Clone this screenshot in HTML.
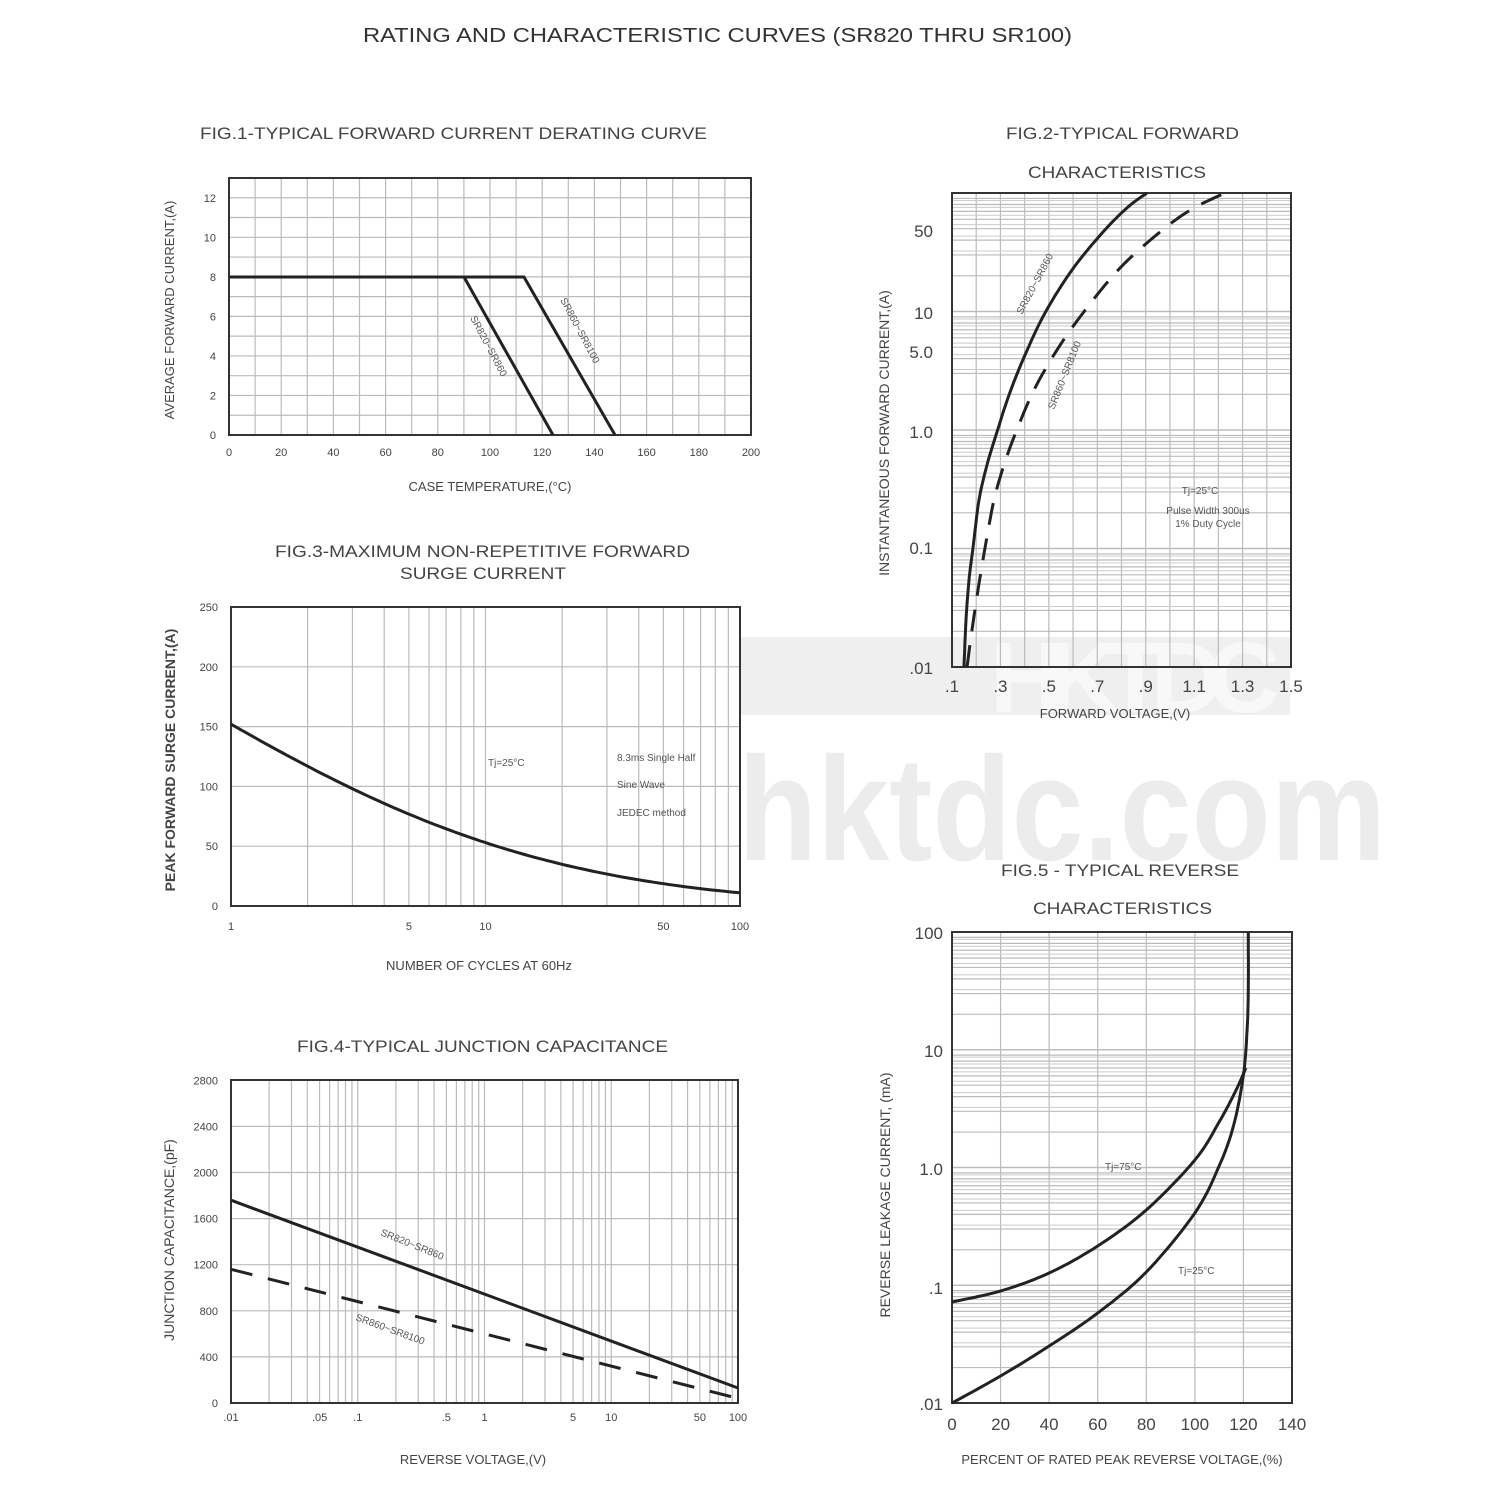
<!DOCTYPE html>
<html><head><meta charset="utf-8"><style>
html,body{margin:0;padding:0;background:#fff;}
svg{display:block;font-family:"Liberation Sans",sans-serif;}
</style></head><body>
<svg id="s" width="1500" height="1500" viewBox="0 0 1500 1500" xmlns="http://www.w3.org/2000/svg">
<rect width="1500" height="1500" fill="#fff"/>
<rect x="740" y="637" width="550" height="78" fill="#efefef"/>
<text x="990" y="712" font-size="100" font-weight="bold" fill="#f8f8f8" textLength="290">HKTDC</text>
<text x="738" y="860" font-size="148" font-weight="bold" fill="#ececec" textLength="648" lengthAdjust="spacingAndGlyphs">hktdc.com</text>
<g id="g"></g>
<g fill="#333" font-size="20">
<text x="363" y="42" textLength="709" lengthAdjust="spacingAndGlyphs">RATING AND CHARACTERISTIC CURVES (SR820 THRU SR100)</text>
</g>
<g fill="#444" font-size="17">
<text x="200" y="139" textLength="507" lengthAdjust="spacingAndGlyphs">FIG.1-TYPICAL FORWARD CURRENT DERATING CURVE</text>
<text x="1006" y="139" textLength="233" lengthAdjust="spacingAndGlyphs">FIG.2-TYPICAL FORWARD</text>
<text x="1028" y="178" textLength="178" lengthAdjust="spacingAndGlyphs">CHARACTERISTICS</text>
<text x="275" y="557" textLength="415" lengthAdjust="spacingAndGlyphs">FIG.3-MAXIMUM NON-REPETITIVE FORWARD</text>
<text x="400" y="579" textLength="166" lengthAdjust="spacingAndGlyphs">SURGE CURRENT</text>
<text x="297" y="1052" textLength="371" lengthAdjust="spacingAndGlyphs">FIG.4-TYPICAL JUNCTION CAPACITANCE</text>
<text x="1001" y="876" textLength="238" lengthAdjust="spacingAndGlyphs">FIG.5 - TYPICAL REVERSE</text>
<text x="1033" y="914" textLength="179" lengthAdjust="spacingAndGlyphs">CHARACTERISTICS</text>
</g>
<g fill="#444" font-size="13" text-anchor="middle">
<text x="490" y="491">CASE  TEMPERATURE,(°C)</text>
<text x="479" y="970">NUMBER OF CYCLES AT 60Hz</text>
<text x="473" y="1464">REVERSE VOLTAGE,(V)</text>
<text x="1115" y="718">FORWARD VOLTAGE,(V)</text>
<text x="1122" y="1464">PERCENT OF RATED PEAK REVERSE VOLTAGE,(%)</text>
<text transform="translate(174,310) rotate(-90)">AVERAGE FORWARD CURRENT,(A)</text>
<text transform="translate(175,760) rotate(-90)" font-size="14" font-weight="bold">PEAK FORWARD SURGE CURRENT,(A)</text>
<text transform="translate(174,1240) rotate(-90)" font-size="14">JUNCTION CAPACITANCE,(pF)</text>
<text transform="translate(889,433) rotate(-90)" font-size="14">INSTANTANEOUS FORWARD CURRENT,(A)</text>
<text transform="translate(890,1195) rotate(-90)" font-size="14">REVERSE LEAKAGE CURRENT, (mA)</text>
</g>
<g fill="#555" font-size="10">
<text transform="translate(470,318) rotate(62)">SR820~SR860</text>
<text transform="translate(560,300) rotate(62)">SR860~SR8100</text>
<text transform="translate(1022,315) rotate(-62)">SR820~SR860</text>
<text transform="translate(1054,410) rotate(-68)">SR860~SR8100</text>
<text x="1200" y="494" text-anchor="middle">Tj=25°C</text>
<text x="1208" y="514" text-anchor="middle">Pulse Width 300us</text>
<text x="1208" y="527" text-anchor="middle">1% Duty Cycle</text>
<text x="488" y="766">Tj=25°C</text>
<text x="617" y="761">8.3ms Single Half</text>
<text x="617" y="788">Sine Wave</text>
<text x="617" y="816">JEDEC method</text>
<text transform="translate(380,1235) rotate(22)">SR820~SR860</text>
<text transform="translate(355,1320) rotate(20)">SR860~SR8100</text>
<text x="1105" y="1170">Tj=75°C</text>
<text x="1178" y="1274">Tj=25°C</text>
</g>
</svg>
<script>
var g=document.getElementById('g'),NS='http://www.w3.org/2000/svg';
function el(t,a,p){var e=document.createElementNS(NS,t);for(var k in a)e.setAttribute(k,a[k]);(p||g).appendChild(e);return e;}
function ln(x1,y1,x2,y2,c,w){el('line',{x1:x1,y1:y1,x2:x2,y2:y2,stroke:c||'#bbb','stroke-width':w||1.2});}
function tx(x,y,s,sz,anc){var t=el('text',{x:x,y:y,'font-size':sz,'text-anchor':anc||'middle',fill:'#444'});t.textContent=s;}
function pl(pts,dash,w){var d='M'+pts.map(function(p){return p[0].toFixed(1)+','+p[1].toFixed(1)}).join(' L');var a={d:d,fill:'none',stroke:'#222','stroke-width':w||3,'stroke-linejoin':'round'};if(dash)a['stroke-dasharray']=dash;el('path',a);}
function box(x1,y1,x2,y2){el('rect',{x:x1,y:y1,width:x2-x1,height:y2-y1,fill:'none',stroke:'#333','stroke-width':2});}
function smooth(pts,n){var o=[];for(var i=0;i<pts.length-1;i++){var p0=pts[Math.max(i-1,0)],p1=pts[i],p2=pts[i+1],p3=pts[Math.min(i+2,pts.length-1)];for(var t=0;t<1;t+=1/n){var t2=t*t,t3=t2*t;o.push([0.5*((2*p1[0])+(-p0[0]+p2[0])*t+(2*p0[0]-5*p1[0]+4*p2[0]-p3[0])*t2+(-p0[0]+3*p1[0]-3*p2[0]+p3[0])*t3),0.5*((2*p1[1])+(-p0[1]+p2[1])*t+(2*p0[1]-5*p1[1]+4*p2[1]-p3[1])*t2+(-p0[1]+3*p1[1]-3*p2[1]+p3[1])*t3)]);}}o.push(pts[pts.length-1]);return o;}
// FIG1
var X0=229,X1=751,Y0=435,Y1=178,sx=(X1-X0)/200,sy=19.77;
for(var i=1;i<20;i++)ln(X0+i*10*sx,Y1,X0+i*10*sx,Y0);
for(var i=1;i<14;i++){var y=Y0-i*sy;if(y>Y1+2)ln(X0,y,X1,y);}
box(X0,Y1,X1,Y0);
for(var i=0;i<=12;i+=2)tx(216,Y0-i*sy+4,''+i,11,'end');
for(var i=0;i<=200;i+=20)tx(X0+i*sx,456,''+i,11);
pl([[X0,277],[464,277],[553,Y0]]);pl([[464,277],[524,277],[615,Y0]]);
// FIG3
X0=231;X1=740;Y0=906;Y1=607;var dx=(X1-X0)/2;
for(var d=0;d<2;d++)for(var k=2;k<=10;k++)ln(X0+(d+Math.log10(k))*dx,Y1,X0+(d+Math.log10(k))*dx,Y0);
for(var v=50;v<250;v+=50)ln(X0,Y0-v*1.196,X1,Y0-v*1.196);
box(X0,Y1,X1,Y0);
for(var v=0;v<=250;v+=50)tx(218,Y0-v*1.196+4,''+v,11,'end');
[[1,'1'],[5,'5'],[10,'10'],[50,'50'],[100,'100']].forEach(function(a){tx(X0+Math.log10(a[0])*dx,930,a[1],11)});
var sp=[];for(var L=0;L<=2.0001;L+=0.02){var I=152*Math.exp(-0.795*L-0.259*L*L);sp.push([X0+L*dx,Y0-I*1.196]);}
pl(sp);
// FIG4
X0=231;X1=738;Y0=1403;Y1=1080;dx=(X1-X0)/4;var cy=46.1/400;
for(var d=0;d<4;d++)for(var k=2;k<=10;k++)ln(X0+(d+Math.log10(k))*dx,Y1,X0+(d+Math.log10(k))*dx,Y0);
for(var v=400;v<2800;v+=400)ln(X0,Y0-v*cy,X1,Y0-v*cy);
box(X0,Y1,X1,Y0);
for(var v=0;v<=2800;v+=400)tx(218,Y0-v*cy+4,''+v,11,'end');
[[.01,'.01'],[.05,'.05'],[.1,'.1'],[.5,'.5'],[1,'1'],[5,'5'],[10,'10'],[50,'50'],[100,'100']].forEach(function(a){tx(X0+(Math.log10(a[0])+2)*dx,1421,a[1],11)});
pl([[X0,Y0-1760*cy],[X1,Y0-130*cy]]);
pl([[X0,Y0-1160*cy],[X1,Y0-40*cy]],'22,16');
// FIG2
X0=952;X1=1291;Y0=667;Y1=193;dx=(X1-X0)/14;var dy=(Y0-Y1)/4;
for(var i=1;i<14;i++)ln(X0+i*dx,Y1,X0+i*dx,Y0);
for(var d=0;d<4;d++)for(var k=1;k<=10;k++){if(d==0&&k==1)continue;var y=Y0-(d+Math.log10(k))*dy;ln(X0,y,X1,y);if(k>=3&&k<=8)ln(X0,y-4,X1,y-4,'#ccc',1);}
box(X0,Y1,X1,Y0);
[['50',237],['10',319],['5.0',358],['1.0',438],['0.1',554],['.01',674]].forEach(function(a){tx(933,a[1],a[0],17,'end')});
['.1','.3','.5','.7','.9','1.1','1.3','1.5'].forEach(function(s,i){tx(X0+i*2*dx,692,s,17)});
pl(smooth([[964,667],[966,620],[969,580],[973,548],[979,500],[987,465],[997,432],[1009,395],[1025,355],[1045,313],[1072,270],[1103,232],[1128,207],[1147,193]],8));
pl(smooth([[967,667],[972,630],[978,590],[985,548],[994,500],[1004,465],[1016,432],[1034,390],[1057,350],[1083,313],[1120,268],[1160,232],[1192,209],[1225,193]],8),'22,14');
// FIG5
X0=952;X1=1292;Y0=1403;Y1=932;dx=(X1-X0)/7;dy=(Y0-Y1)/4;
for(var i=1;i<7;i++)ln(X0+i*dx,Y1,X0+i*dx,Y0);
for(var d=0;d<4;d++)for(var k=1;k<=10;k++){if(d==0&&k==1)continue;var y=Y0-(d+Math.log10(k))*dy;ln(X0,y,X1,y);if(k>=3&&k<=8)ln(X0,y-4,X1,y-4,'#ccc',1);}
box(X0,Y1,X1,Y0);
[['100',939],['10',1057],['1.0',1175],['.1',1294],['.01',1410]].forEach(function(a){tx(943,a[1],a[0],17,'end')});
for(var i=0;i<=7;i++)tx(X0+i*dx,1430,''+(i*20),17);
function px(p){return 952+p*2.4286;}
pl(smooth([[0,1302],[20,1291],[40,1273],[60,1246],[80,1210],[100,1160],[110,1122],[117,1090],[121,1068]].map(function(a){return[px(a[0]),a[1]]}),10));
pl(smooth([[0,1403],[20,1376],[40,1346],[60,1313],[80,1272],[100,1213],[110,1166],[116,1125],[120,1075],[121.5,1030],[122,990],[122,932]].map(function(a){return[px(a[0]),a[1]]}),10));
</script>
</body></html>
